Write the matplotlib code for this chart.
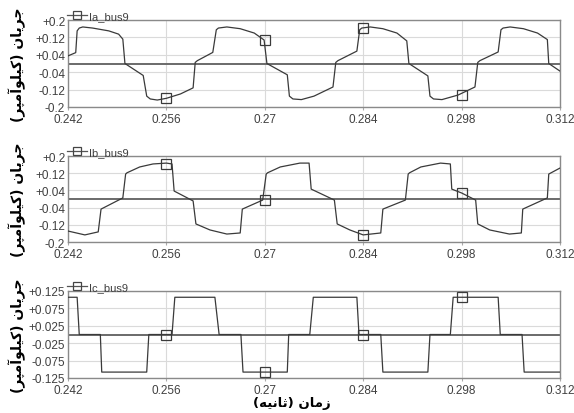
import numpy as np
import matplotlib.pyplot as plt
from matplotlib.lines import Line2D

# ============================== DATA ==============================

xticks = [0.242, 0.256, 0.270, 0.284, 0.298, 0.312]
xtick_lbl = ['0.242', '0.256', '0.27', '0.284', '0.298', '0.312']

ab_yticks = [0.2, 0.12, 0.04, -0.04, -0.12, -0.2]
ab_ytick_lbl = ['+0.2', '+0.12', '+0.04', '-0.04', '-0.12', '-0.2']
c_yticks = [0.125, 0.075, 0.025, -0.025, -0.075, -0.125]
c_ytick_lbl = ['+0.125', '+0.075', '+0.025', '-0.025', '-0.075', '-0.125']

# Ia_bus9 [kA]
ia_t = [0.2420, 0.2431, 0.2433, 0.2436, 0.2441, 0.2455, 0.2478, 0.2492, 0.2498, 0.2501,
        0.2527, 0.2532, 0.2537, 0.2547, 0.2560, 0.2580, 0.2598, 0.2601, 0.2604, 0.2626,
        0.2631, 0.2634, 0.2646, 0.2665, 0.2685, 0.2699, 0.2703, 0.2732, 0.2735, 0.2740,
        0.2752, 0.2770, 0.2797, 0.2801, 0.2804, 0.2831, 0.2835, 0.2838, 0.2850, 0.2868,
        0.2888, 0.2902, 0.2905, 0.2932, 0.2935, 0.2940, 0.2952, 0.2975, 0.2999, 0.3003,
        0.3006, 0.3032, 0.3036, 0.3039, 0.3049, 0.3068, 0.3088, 0.3102, 0.3104, 0.3120]
ia_v = [0.035, 0.050, 0.150, 0.163, 0.168, 0.163, 0.150, 0.135, 0.112, 0.000,
        -0.055, -0.150, -0.163, -0.168, -0.160, -0.140, -0.112, 0.005, 0.013, 0.051,
        0.155, 0.163, 0.168, 0.160, 0.140, 0.108, 0.000, -0.052, -0.150, -0.163,
        -0.166, -0.150, -0.108, 0.005, 0.013, 0.057, 0.155, 0.163, 0.168, 0.160,
        0.140, 0.104, 0.000, -0.057, -0.150, -0.163, -0.166, -0.145, -0.108, 0.005,
        0.013, 0.053, 0.155, 0.163, 0.168, 0.160, 0.140, 0.110, 0.000, -0.035]

# Ib_bus9 [kA]
ib_t = [0.2420, 0.2444, 0.2463, 0.2467, 0.2498, 0.2502, 0.2504, 0.2522, 0.2541, 0.2560,
        0.2568, 0.2571, 0.2598, 0.2602, 0.2622, 0.2646, 0.2665, 0.2668, 0.2697, 0.2702,
        0.2704, 0.2722, 0.2750, 0.2763, 0.2766, 0.2799, 0.2803, 0.2821, 0.2840, 0.2851,
        0.2865, 0.2868, 0.2900, 0.2904, 0.2906, 0.2922, 0.2950, 0.2964, 0.2966, 0.2980,
        0.3000, 0.3003, 0.3020, 0.3048, 0.3065, 0.3067, 0.3102, 0.3104, 0.3120]
ib_v = [-0.149, -0.167, -0.153, -0.047, 0.005, 0.116, 0.122, 0.149, 0.163, 0.167,
        0.163, 0.037, -0.009, -0.116, -0.144, -0.163, -0.158, -0.047, -0.005, 0.116,
        0.122, 0.149, 0.167, 0.167, 0.046, -0.005, -0.116, -0.144, -0.167, -0.163,
        -0.158, -0.047, -0.005, 0.116, 0.122, 0.149, 0.167, 0.163, 0.046, 0.028,
        -0.005, -0.116, -0.144, -0.163, -0.158, -0.047, 0.005, 0.116, 0.144]

# Ic_bus9 [kA]
ic_t = [0.2420, 0.2433, 0.2436, 0.2466, 0.2468, 0.2532, 0.2535, 0.2568, 0.2572, 0.2629,
        0.2635, 0.2666, 0.2669, 0.2732, 0.2734, 0.2764, 0.2769, 0.2831, 0.2834, 0.2865,
        0.2868, 0.2932, 0.2935, 0.2964, 0.2968, 0.3032, 0.3035, 0.3066, 0.3069, 0.3120]
ic_v = [0.107, 0.107, 0.000, 0.000, -0.108, -0.108, 0.000, 0.000, 0.107, 0.107,
        0.000, 0.000, -0.108, -0.108, 0.000, 0.000, 0.107, 0.107, 0.000, 0.000,
        -0.108, -0.108, 0.000, 0.000, 0.107, 0.107, 0.000, 0.000, -0.108, -0.108]

# square markers of each trace
mark_t = [0.256, 0.270, 0.284, 0.298]
ia_mark = [-0.160, 0.108, 0.163, -0.145]
ib_mark = [0.163, -0.003, -0.167, 0.028]
ic_mark = [0.000, -0.108, 0.000, 0.107]

ylbl = 'جریان (کیلوآمپر)'
xlbl = 'زمان (ثانیه)'

# ====================== ARABIC SCRIPT SHAPING ======================
# letter -> (isolated, final, initial, medial); None = does not join forward
FORMS = {
    'ج': ('\uFE9D', '\uFE9E', '\uFE9F', '\uFEA0'),
    'ر': ('\uFEAD', '\uFEAE', None, None),
    'ی': ('\uFEEF', '\uFEF0', '\uFEF3', '\uFEF4'),
    'ا': ('\uFE8D', '\uFE8E', None, None),
    'ن': ('\uFEE5', '\uFEE6', '\uFEE7', '\uFEE8'),
    'ک': ('\uFED9', '\uFEDA', '\uFEDB', '\uFEDC'),
    'ل': ('\uFEDD', '\uFEDE', '\uFEDF', '\uFEE0'),
    'و': ('\uFEED', '\uFEEE', None, None),
    'آ': ('\uFE81', '\uFE82', None, None),
    'م': ('\uFEE1', '\uFEE2', '\uFEE3', '\uFEE4'),
    'پ': ('\uFB56', '\uFB57', '\uFB58', '\uFB59'),
    'ز': ('\uFEAF', '\uFEB0', None, None),
    'ث': ('\uFE99', '\uFE9A', '\uFE9B', '\uFE9C'),
    'ه': ('\uFEE9', '\uFEEA', '\uFEEB', '\uFEEC'),
}

def shape(txt):
    out = []
    for i, ch in enumerate(txt):
        if ch not in FORMS:
            out.append({'(': ')', ')': '('}.get(ch, ch))
            continue
        prev = txt[i-1] if i > 0 else ''
        nxt = txt[i+1] if i < len(txt)-1 else ''
        j_prev = prev in FORMS and FORMS[prev][2] is not None
        j_next = nxt in FORMS and FORMS[ch][2] is not None
        iso, fin, ini, med = FORMS[ch]
        if j_prev and j_next:
            out.append(med)
        elif j_prev:
            out.append(fin)
        elif j_next:
            out.append(ini)
        else:
            out.append(iso)
    return ''.join(out[::-1])

# ============================== PLOT ==============================
plt.rcParams['font.family'] = ['Liberation Sans', 'DejaVu Sans']

W, H = 574, 414
fig = plt.figure(figsize=(W/100, H/100), dpi=100)

trace_c = '#3a3a3a'
# axes boxes in pixels: top, bottom
boxes = [(21, 108), (157, 243), (292, 379)]
left, right = 68, 560

panels = [
    (ia_t, ia_v, ia_mark, 'Ia_bus9', ab_yticks, ab_ytick_lbl, (-0.2, 0.2)),
    (ib_t, ib_v, ib_mark, 'Ib_bus9', ab_yticks, ab_ytick_lbl, (-0.2, 0.2)),
    (ic_t, ic_v, ic_mark, 'Ic_bus9', c_yticks, c_ytick_lbl, (-0.125, 0.125)),
]

for (top, bot), (t, v, mv, name, yt, ytl, ylim) in zip(boxes, panels):
    ax = fig.add_axes([left/W, 1-bot/H, (right-left)/W, (bot-top)/H])
    ax.axhline(0, color='#6a6a6a', lw=1.4, zorder=2)
    ax.plot(t, v, color=trace_c, lw=0.9, zorder=3)
    ax.plot(mark_t, mv, 's', ms=6.5, mfc='none', mec=trace_c, mew=0.9, zorder=4)
    ax.set_xlim(xticks[0], xticks[-1])
    ax.set_ylim(ylim)
    ax.set_xticks(xticks, xtick_lbl)
    ax.set_yticks(yt, ytl)
    ax.grid(color='#dadada', lw=0.8)
    ax.set_axisbelow(True)
    for s in ax.spines.values():
        s.set_color('#8a8a8a')
        s.set_linewidth(1.0)
    ax.tick_params(axis='y', length=0, pad=2, labelsize=8.5, labelcolor='#404040')
    ax.tick_params(axis='x', length=2.5, pad=1.5, color='#aaaaaa',
                   labelsize=8.5, labelcolor='#404040')

    # legend entry above the axes: line with a hollow square
    handle = Line2D([], [], color='#555555', lw=0.9, marker='s', ms=6,
                    mfc='none', mec='#444444', mew=0.9)
    leg = ax.legend([handle], [name], loc='lower left', bbox_to_anchor=(-0.003, 0.99),
                    frameon=False, borderaxespad=0, borderpad=0, handlelength=1.8,
                    handletextpad=0.2, numpoints=1, fontsize=8)
    for txt in leg.get_texts():
        txt.set_color('#404040')

    fig.text(17/W, 1-(top+bot)/2/H, shape(ylbl), rotation=90, ha='center', va='center',
             fontsize=10, fontweight='bold', family=['DejaVu Sans'])

fig.text(292/W, 1-404/H, shape(xlbl), ha='center', va='center',
         fontsize=9.5, fontweight='bold', family=['DejaVu Sans'])

plt.savefig('out.png', dpi=100)
